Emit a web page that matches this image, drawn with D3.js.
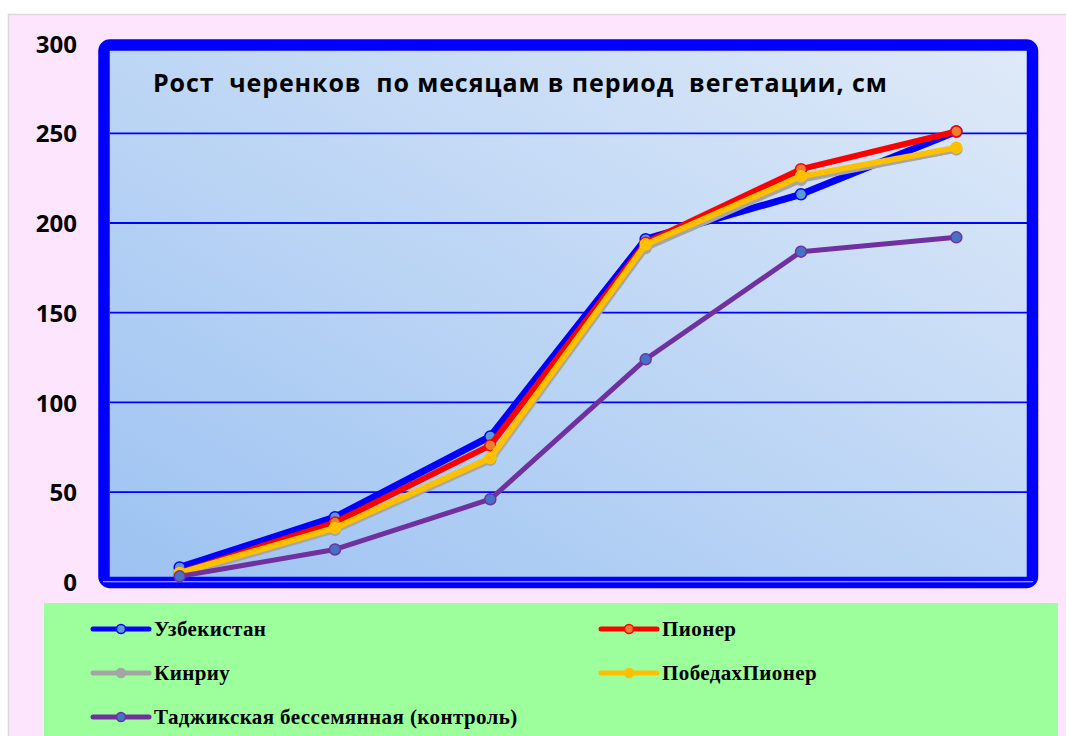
<!DOCTYPE html>
<html>
<head>
<meta charset="utf-8">
<script src="https://cdn.jsdelivr.net/npm/d3@7"></script>
<style>
  body { margin: 0; background: #ffffff; }
  svg { display: block; }
</style>
</head>
<body>
<script>
// data
var months = ["апрель", "май", "июнь", "июль", "август", "сентябрь"];
var uzbek   = [8, 36, 81, 191, 216, 251];
var pioner  = [5, 33, 76, 189, 230, 251];
var kinriu  = [4, 29, 68, 186, 224, 241];
var pobeda  = [5, 30, 69, 188, 226, 242];
var tadzhik = [3, 18, 46, 124, 184, 192];
var seriesNames = ["Узбекистан", "Пионер", "Кинриу", "ПобедахПионер", "Таджикская бессемянная (контроль)"];
var yTicks = [0, 50, 100, 150, 200, 250, 300];
var title = "Рост  черенков  по месяцам в период  вегетации, см";

// drawing order: gray is hidden under yellow, blue at the back
var series = [
  {name: seriesNames[0], values: uzbek,   color: "#0000ff", fill: "#5b9bd5", stroke: "#0000ff", w: 7},
  {name: seriesNames[1], values: pioner,  color: "#ff0000", fill: "#ed7d31", stroke: "#ff0000", w: 6},
  {name: seriesNames[2], values: kinriu,  color: "#a5a5a5", fill: "#a5a5a5", stroke: "#a5a5a5", w: 6},
  {name: seriesNames[3], values: pobeda,  color: "#ffc000", fill: "#ffc000", stroke: "#ffc000", w: 6},
  {name: seriesNames[4], values: tadzhik, color: "#7030a0", fill: "#4472c4", stroke: "#7030a0", w: 5}
];

var width = 1066, height = 736;
var svg = d3.select("body").append("svg")
    .attr("width", width)
    .attr("height", height);

// outer chart area
svg.append("rect")
    .attr("x", 8.5).attr("y", 14.5)
    .attr("width", width).attr("height", height)
    .attr("fill", "#fee5fe")
    .attr("stroke", "#d9d9d9")
    .attr("stroke-width", 1.5);

var x = d3.scaleBand().domain(months).range([102, 1034]);
var y = d3.scaleLinear().domain([0, 300]).range([581.75, 43.6]);
function cx(d, i) { return x(months[i]) + x.bandwidth() / 2; }

// plot background gradient
var defs = svg.append("defs");
var grad = defs.append("linearGradient")
    .attr("id", "bg")
    .attr("x1", "0").attr("y1", "1").attr("x2", "1").attr("y2", "0");
grad.append("stop").attr("offset", "0%").attr("stop-color", "#9cc2f2");
grad.append("stop").attr("offset", "100%").attr("stop-color", "#dfeaf8");

var fx = 104, fy = y(300) + 1.5, fw = 1032.5 - 104, fh = y(0) + 0.8 - fy;
svg.append("rect")
    .attr("x", fx).attr("y", fy)
    .attr("width", fw).attr("height", fh)
    .attr("fill", "url(#bg)");

// grid lines
svg.append("g")
    .selectAll("line")
    .data(yTicks.filter(function(d) { return d > 0 && d < 300; }))
    .enter().append("line")
    .attr("x1", 110).attr("x2", 1027)
    .attr("y1", function(d) { return y(d); })
    .attr("y2", function(d) { return y(d); })
    .attr("stroke", "#0000ff")
    .attr("stroke-width", 1.8);

// frame
svg.append("rect")
    .attr("x", fx).attr("y", fy)
    .attr("width", fw).attr("height", fh)
    .attr("rx", 6)
    .attr("fill", "none")
    .attr("stroke", "#0000ff")
    .attr("stroke-width", 11.5);

// thin x axis line inside the bottom border
svg.append("line")
    .attr("x1", 103).attr("x2", 1033)
    .attr("y1", y(0)).attr("y2", y(0))
    .attr("stroke", "#c8d0f0")
    .attr("stroke-width", 1);

// y axis labels
var yAxis = svg.append("g")
    .attr("transform", "translate(98,0)")
    .call(d3.axisLeft(y).tickValues(yTicks).tickSize(0).tickPadding(21));
yAxis.select(".domain").remove();
yAxis.selectAll("text")
    .attr("fill", "#000")
    .style("font-family", "'Open Sans', sans-serif")
    .style("font-weight", "bold")
    .style("font-size", "24px")
    .attr("dy", "0.36em");

// title
svg.append("text")
    .attr("x", 153).attr("y", 92)
    .style("white-space", "pre")
    .style("font-family", "'Open Sans', sans-serif")
    .style("font-weight", "bold")
    .style("font-size", "25px")
    .style("letter-spacing", "0.9px")
    .attr("fill", "#000")
    .text(title);

// lines
var line = d3.line()
    .x(function(d, i) { return cx(d, i); })
    .y(function(d) { return y(d); });

// gray shadow under the yellow series
svg.append("path")
    .attr("d", line(pobeda))
    .attr("transform", "translate(1.5,2)")
    .attr("fill", "none")
    .attr("stroke", "#a0a0a0")
    .attr("stroke-width", 6)
    .attr("opacity", 0.6);

series.forEach(function(s) {
  var g = svg.append("g");
  g.append("path")
      .attr("d", line(s.values))
      .attr("fill", "none")
      .attr("stroke", s.color)
      .attr("stroke-width", s.w)
      .attr("stroke-linejoin", "round")
      .attr("stroke-linecap", "round");
  g.selectAll("circle")
      .data(s.values)
      .enter().append("circle")
      .attr("cx", function(d, i) { return cx(d, i); })
      .attr("cy", function(d) { return y(d); })
      .attr("r", 5.5)
      .attr("fill", s.fill)
      .attr("stroke", s.stroke)
      .attr("stroke-width", 1.5);
});

// legend
svg.append("rect")
    .attr("x", 44).attr("y", 603)
    .attr("width", 1058 - 44).attr("height", height - 603)
    .attr("fill", "#9cff9c");

var legendPos = [
  [0, 0], [1, 0], [0, 1], [1, 1], [0, 2]
];
var colX = [93, 601], rowY = [629, 673, 717];
series.forEach(function(s, j) {
  var lx = colX[legendPos[j][0]], ly = rowY[legendPos[j][1]];
  var g = svg.append("g").attr("transform", "translate(" + lx + "," + ly + ")");
  g.append("line")
      .attr("x1", 0).attr("x2", 56)
      .attr("stroke", s.color)
      .attr("stroke-width", 5)
      .attr("stroke-linecap", "round");
  g.append("circle")
      .attr("cx", 28).attr("r", 4.5)
      .attr("fill", s.fill)
      .attr("stroke", s.stroke)
      .attr("stroke-width", 1.5);
  g.append("text")
      .attr("x", 61).attr("dy", "0.35em")
      .style("font-family", "'Liberation Serif', serif")
      .style("font-weight", "bold")
      .style("font-size", "21px")
      .style("letter-spacing", "0.4px")
      .attr("fill", "#000")
      .text(s.name);
});
</script>
</body>
</html>
